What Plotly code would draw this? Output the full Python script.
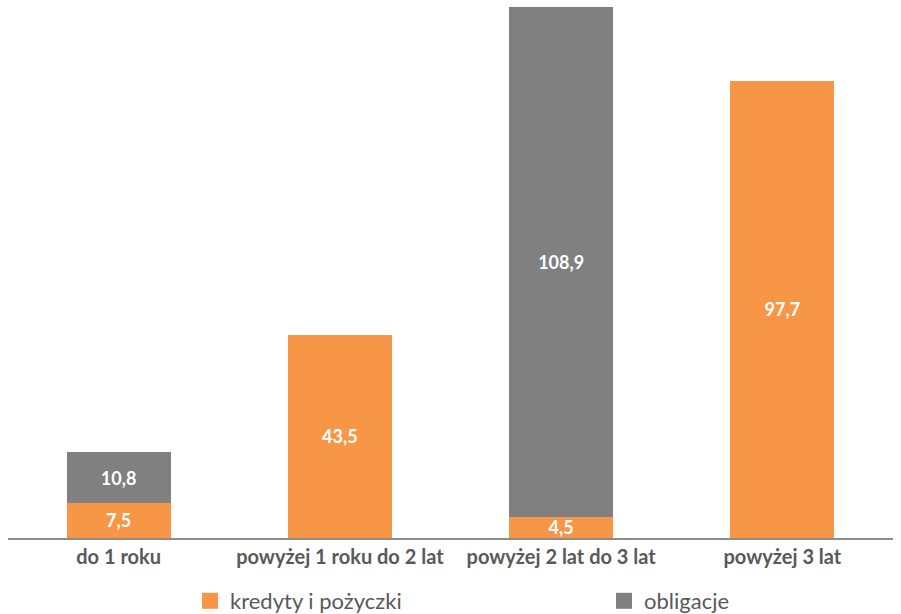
import plotly.graph_objects as go

categories = ["do 1 roku", "powyżej 1 roku do 2 lat", "powyżej 2 lat do 3 lat", "powyżej 3 lat"]
kredyty = [7.5, 43.5, 4.5, 97.7]
obligacje = [10.8, None, 108.9, None]

ORANGE = "#F79646"
GRAY = "#808080"
FONT = "Lato"

def fmt(v):
    return "" if v is None else f"{v:.1f}".replace(".", ",")

fig = go.Figure()
fig.add_trace(go.Bar(
    x=categories, y=kredyty, name="kredyty i pożyczki", marker_color=ORANGE,
    marker_line_width=0,
    text=[fmt(v) for v in kredyty], textposition="inside", insidetextanchor="middle",
    constraintext="none", cliponaxis=False,
    textfont=dict(family=FONT, size=18, color="white", weight="bold"),
    showlegend=False, hoverinfo="skip"))
fig.add_trace(go.Bar(
    x=categories, y=obligacje, name="obligacje", marker_color=GRAY,
    marker_line_width=0,
    text=[fmt(v) for v in obligacje], textposition="inside", insidetextanchor="middle",
    constraintext="none", cliponaxis=False,
    textfont=dict(family=FONT, size=18, color="white", weight="bold"),
    showlegend=False, hoverinfo="skip"))
# legend proxies (two separate legends so they can be placed independently)
for nm, col, lg in [("kredyty i pożyczki", ORANGE, "legend"), ("obligacje", GRAY, "legend2")]:
    fig.add_trace(go.Scatter(x=[None], y=[None], mode="markers", name=nm, legend=lg,
                             marker=dict(symbol="square", size=17, color=col)))

legend_common = dict(orientation="h", xref="container", yref="container",
                     xanchor="left", yanchor="middle", y=(614 - 601) / 614,
                     font=dict(family=FONT, size=22, color="#595959"),
                     itemsizing="trace", bgcolor="rgba(0,0,0,0)")

fig.update_layout(
    barmode="stack", bargap=0.53,
    width=901, height=614,
    margin=dict(l=8, r=8, t=0, b=76, autoexpand=False),
    paper_bgcolor="white", plot_bgcolor="white",
    xaxis=dict(showline=True, linecolor="#8C8C8C", linewidth=2, ticks="", ticklen=0,
               tickfont=dict(family=FONT, size=20, color="#595959", weight="bold"),
               showgrid=False),
    yaxis=dict(range=[0, 115], visible=False, showgrid=False, zeroline=False),
    legend=dict(x=190 / 901, **legend_common),
    legend2=dict(x=604 / 901, **legend_common),
    font=dict(family=FONT),
)
fig.write_html("out.html")
